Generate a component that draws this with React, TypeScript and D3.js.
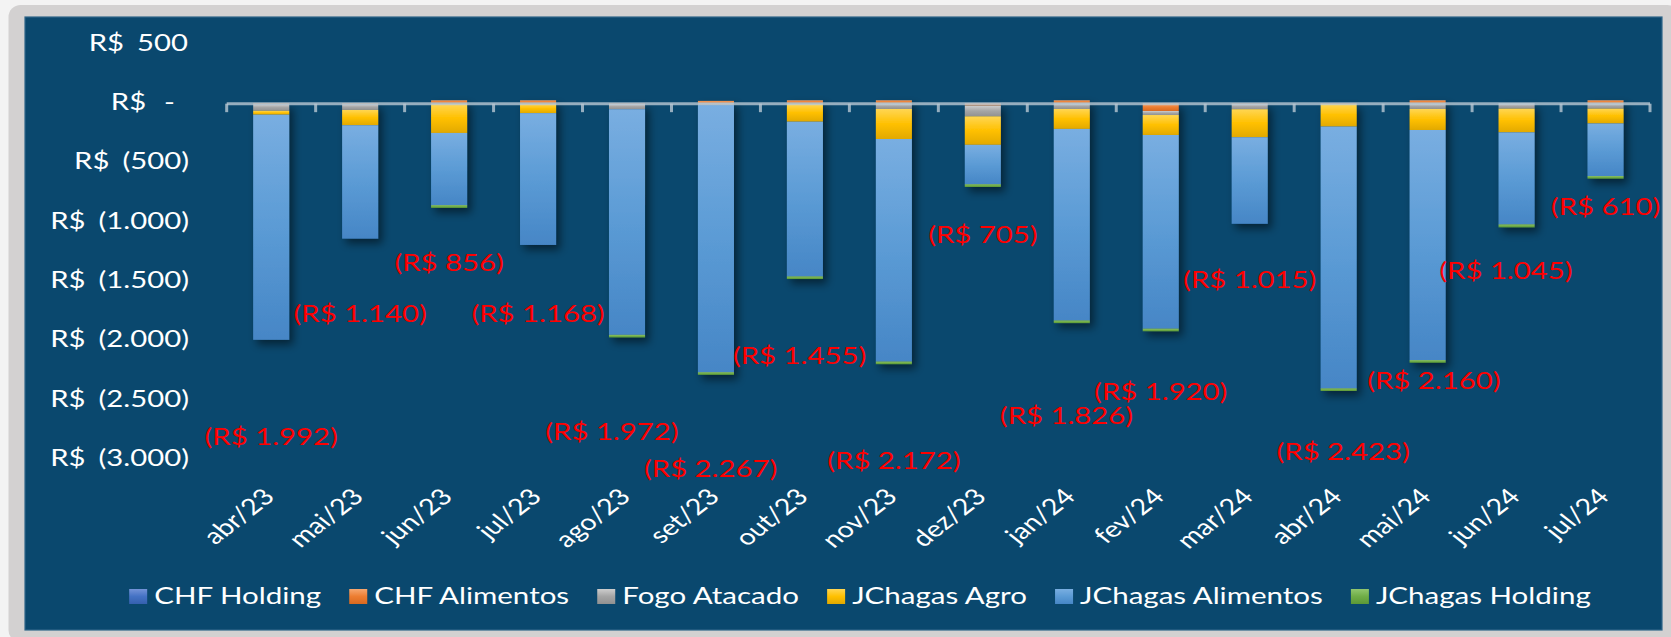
import React, { useEffect, useRef } from "react";
import * as d3 from "d3";

const W = 1671;
const H = 637;

const categories = ["abr/23", "mai/23", "jun/23", "jul/23", "ago/23", "set/23", "out/23", "nov/23", "dez/23", "jan/24", "fev/24", "mar/24", "abr/24", "mai/24", "jun/24", "jul/24"];
const seriesNames = ["CHF Holding", "CHF Alimentos", "Fogo Atacado", "JChagas Agro", "JChagas Alimentos", "JChagas Holding"];

const chfHolding = [0, 0, 0, 0, 0, 0, 0, 0, 0, 0, 0, 0, 0, 0, 0, 0];
const chfAlimentos = [-8, -8, 25, 25, -5, 20, 25, 25, -20, 25, -65, -5, -5, 25, 0, 25];
const fogoAtacado = [-55, -48, -5, -5, -45, -15, -5, -48, -90, -48, -34, -45, 0, -48, -45, -45];
const jchagasAgro = [-33, -129, -245, -78, 0, 0, -150, -253, -240, -168, -168, -236, -191, -177, -200, -125];
const jchagasAlimentos = [-1896, -955, -608, -1110, -1900, -2250, -1303, -1874, -332, -1613, -1631, -729, -2205, -1938, -775, -443];
const jchagasHolding = [0, 0, -23, 0, -22, -22, -22, -22, -23, -22, -22, 0, -22, -22, -25, -22];

// value (R$) at which each total label sits, as placed in the reference
const labelAnchor = [-2802, -1766, -1337, -1766, -2760, -3071, -2120, -3004, -1101, -2625, -2423, -1480, -2928, -2330, -1404, -865];
// horizontal shift of each total label, in category steps
const labelShift = [0, 0, 0, 0, -0.17, -0.06, -0.06, 0, 0, -0.06, 0, 0, 0.05, 0.07, -0.12, 0];

const yTicks = [500, 0, -500, -1000, -1500, -2000, -2500, -3000];

const seriesColors = [
  ["#7393D8", "#4472C4", "#3560AE"],
  ["#F6A76F", "#ED7D31", "#D96A20"],
  ["#CDCDCD", "#A5A5A5", "#919191"],
  ["#FFD653", "#FFC000", "#E2A900"],
  ["#79AEE1", "#5B9BD5", "#4686C6"],
  ["#91C66E", "#70AD47", "#5C9836"],
];

const FONT = "Lato, 'Open Sans', sans-serif";
const SX = 1.22;

export default function App() {
  const ref = useRef<SVGSVGElement>(null);

  useEffect(() => {
    const svg = d3.select(ref.current);
    svg.selectAll("*").remove();

    const loc = d3.formatLocale({ decimal: ",", thousands: ".", grouping: [3], currency: ["R$", ""] });
    const fmt = loc.format(",.0f");

    const seriesData = [chfHolding, chfAlimentos, fogoAtacado, jchagasAgro, jchagasAlimentos, jchagasHolding];
    const rows = categories.map((c, i) => {
      const r: any = { cat: c };
      seriesNames.forEach((s, j) => (r[s] = seriesData[j][i]));
      return r;
    });
    const totals = categories.map((_, i) => d3.sum(seriesData, (s) => s[i]));

    const stack = d3.stack<any>().keys(seriesNames).offset(d3.stackOffsetDiverging);
    const stacked = stack(rows);

    const x = d3.scaleBand<string>().domain(categories).range([226.7, 1650]).paddingInner(0.595).paddingOuter(0.2975);
    const y = d3.scaleLinear().domain([-3000, 500]).range([459.5, 43.9]);

    const defs = svg.append("defs");
    seriesColors.forEach((c, i) => {
      const g = defs.append("linearGradient").attr("id", `grad${i}`).attr("x1", 0).attr("y1", 0).attr("x2", 0).attr("y2", 1);
      g.append("stop").attr("offset", "0%").attr("stop-color", c[0]);
      g.append("stop").attr("offset", "50%").attr("stop-color", c[1]);
      g.append("stop").attr("offset", "100%").attr("stop-color", c[2]);
    });
    const f = defs.append("filter").attr("id", "shadow").attr("x", "-30%").attr("y", "-10%").attr("width", "180%").attr("height", "130%");
    f.append("feDropShadow").attr("dx", 4).attr("dy", 5).attr("stdDeviation", 4).attr("flood-color", "#000").attr("flood-opacity", 0.5);

    // background & frame
    svg.append("rect").attr("x", 0).attr("y", 0).attr("width", W).attr("height", H).attr("fill", "#F3F3F3");
    svg.append("rect").attr("x", 8.5).attr("y", 5).attr("width", W).attr("height", H).attr("rx", 12).attr("fill", "#D3D1D1");
    svg.append("rect").attr("x", 25).attr("y", 17).attr("width", 1637).attr("height", 613)
      .attr("fill", "#0A486E").attr("stroke", "#2F6689").attr("stroke-width", 1.2);

    // bars
    const barsG = svg.append("g").attr("filter", "url(#shadow)");
    stacked.forEach((layer, si) => {
      barsG.append("g").attr("fill", `url(#grad${si})`)
        .selectAll("rect")
        .data(layer)
        .join("rect")
        .attr("x", (d: any) => x(d.data.cat)!)
        .attr("width", x.bandwidth())
        .attr("y", (d: any) => y(Math.max(d[0], d[1])))
        .attr("height", (d: any) => Math.abs(y(d[0]) - y(d[1])));
    });

    // category axis line & ticks
    const y0 = y(0) + 0.4;
    const [r0, r1] = x.range();
    const axisG = svg.append("g").attr("stroke", "#B9C8D3").attr("stroke-opacity", 0.8).attr("stroke-width", 3);
    axisG.append("line").attr("x1", r0).attr("x2", r1).attr("y1", y0).attr("y2", y0);
    const step = x.step();
    d3.range(categories.length + 1).forEach((i) => {
      const xt = r0 + i * step;
      axisG.append("line").attr("x1", xt).attr("x2", xt).attr("y1", y0).attr("y2", y0 + 8.5);
    });

    // y axis labels
    const yl = svg.append("g").attr("fill", "#FFFFFF").attr("font-family", FONT).attr("font-size", 24);
    yTicks.forEach((v) => {
      const num = v === 0 ? "-" : v < 0 ? `(${fmt(-v)})` : fmt(v);
      const xr = v === 0 ? 175 : v < 0 ? 189 : 188;
      const t = yl.append("text").attr("text-anchor", "end").attr("transform", `translate(${xr},${y(v)}) scale(${SX},1)`).attr("dy", "0.28em");
      t.append("tspan").text("R$");
      t.append("tspan").attr("dx", (v === 0 ? 18 : 13) / SX).text(num);
    });

    // x labels
    const xl = svg.append("g").attr("fill", "#FFFFFF").attr("font-family", FONT).attr("font-size", 22.5);
    categories.forEach((c) => {
      const cx = x(c)! + x.bandwidth() / 2;
      xl.append("text").attr("text-anchor", "end")
        .attr("transform", `translate(${cx + 5},${498}) scale(1.28,1) rotate(-45)`)
        .text(c);
    });

    // total labels
    const tl = svg.append("g").attr("fill", "#FF0000").attr("font-family", FONT).attr("font-size", 24).attr("text-anchor", "middle");
    categories.forEach((c, i) => {
      const cx = x(c)! + x.bandwidth() / 2 + labelShift[i] * step;
      const v = totals[i];
      tl.append("text")
        .attr("transform", `translate(${cx},${y(labelAnchor[i])}) scale(${SX},1)`)
        .attr("dy", "0.36em")
        .text(v < 0 ? `(R$ ${fmt(-v)})` : `R$ ${fmt(v)}`);
    });

    // legend
    const LSX = 1.23;
    const lg = svg.append("g").attr("font-family", FONT).attr("font-size", 24);
    const items = seriesNames.map((name, i) => {
      const g = lg.append("g");
      g.append("rect").attr("width", 18).attr("height", 15).attr("y", 589).attr("fill", `url(#grad${i})`);
      const t = g.append("text").attr("fill", "#FFFFFF").text(name);
      const w = (t.node() as SVGTextElement).getComputedTextLength() * LSX;
      return { g, t, w };
    });
    const gap = 28;
    const total = d3.sum(items, (d) => 25 + d.w) + gap * (items.length - 1);
    let cur = 860 - total / 2;
    items.forEach((d) => {
      d.g.select("rect").attr("x", cur);
      d.t.attr("transform", `translate(${cur + 25},604) scale(${LSX},1)`);
      cur += 25 + d.w + gap;
    });
  }, []);

  return <svg ref={ref} width={W} height={H} style={{ position: "absolute", left: 0, top: 0, display: "block" }} />;
}
